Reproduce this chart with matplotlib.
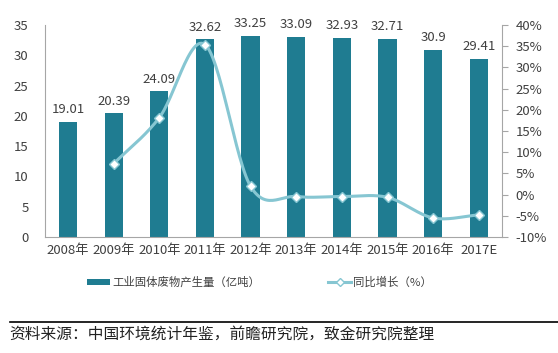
import numpy as np
import matplotlib
matplotlib.use('Agg')
import matplotlib.pyplot as plt
from matplotlib.lines import Line2D
from matplotlib.patches import Patch

plt.rcParams['font.family'] = ['Noto Sans CJK SC', 'DejaVu Sans']

#======================================================================
#                               data
#======================================================================
years  = ['2008年', '2009年', '2010年', '2011年', '2012年',
          '2013年', '2014年', '2015年', '2016年', '2017E']
output = [19.01, 20.39, 24.09, 32.62, 33.25, 33.09, 32.93, 32.71, 30.9, 29.41]
growth = [7.26, 18.15, 35.4, 1.93, -0.48, -0.48, -0.67, -5.53, -4.82]   # from 2009 on

bar_color  = '#1F7C91'
line_color = '#86C6D2'
text_color = '#404040'

#----------------------------------------------------------------------
def smooth(xs, ys, n=30):
    # catmull-rom curve through the points, only for drawing the line
    xs = np.asarray(xs, float); ys = np.asarray(ys, float)
    px = np.concatenate([[2*xs[0]-xs[1]], xs, [2*xs[-1]-xs[-2]]])
    py = np.concatenate([[2*ys[0]-ys[1]], ys, [2*ys[-1]-ys[-2]]])
    ox, oy = [], []
    t = np.linspace(0, 1, n)
    for i in range(1, len(px)-2):
        for p, o in ((px, ox), (py, oy)):
            p0, p1, p2, p3 = p[i-1], p[i], p[i+1], p[i+2]
            o.extend(0.5*((2*p1) + (-p0+p2)*t + (2*p0-5*p1+4*p2-p3)*t**2
                          + (-p0+3*p1-3*p2+p3)*t**3))
    return np.array(ox), np.array(oy)

#======================================================================
fig = plt.figure(figsize=(5.58, 3.53), dpi=100)
ax = fig.add_axes([0.081, 0.329, 0.818, 0.600])

x = np.arange(len(years))
ax.bar(x, output, width=0.4, color=bar_color, zorder=2)
for xi, v in zip(x, output):
    ax.text(xi, v + 0.9, f'{v:g}', ha='center', va='bottom',
            fontsize=9.5, color=text_color)

ax.set_xlim(-0.5, len(years) - 0.5)
ax.set_ylim(0, 35)
ax.set_yticks(range(0, 36, 5))
ax.set_xticks(x)
ax.set_xticklabels(years)
ax.tick_params(axis='both', length=0, labelsize=9.5, colors=text_color)
ax.tick_params(axis='x', pad=5)
ax.tick_params(axis='y', pad=12)
for s in ['top', 'right']:
    ax.spines[s].set_visible(False)
for s in ['left', 'bottom']:
    ax.spines[s].set_color('#A6A6A6')

#----------------------------------------------------------------------
ax2 = ax.twinx()
ax2.set_ylim(-10, 40)
ax2.set_yticks(range(-10, 41, 5))
ax2.set_yticklabels([f'{v}%' for v in range(-10, 41, 5)])
ax2.tick_params(axis='y', length=4, labelsize=9.5, colors=text_color, pad=6)
ax2.tick_params(axis='y', color='#A6A6A6')
for s in ['top', 'left', 'bottom']:
    ax2.spines[s].set_visible(False)
ax2.spines['right'].set_color('#A6A6A6')

sx, sy = smooth(x[1:], growth)
ax2.plot(sx, sy, color=line_color, linewidth=2.2, zorder=3)
ax2.plot(x[1:], growth, linestyle='none', marker='D', markersize=5,
         markerfacecolor='white', markeredgecolor=line_color,
         markeredgewidth=1, zorder=4)

#----------------------------------------------------------------------
handles = [Patch(facecolor=bar_color, label='工业固体废物产生量（亿吨）'),
           Line2D([], [], color=line_color, linewidth=2.2, marker='D',
                  markersize=4, markerfacecolor='white',
                  markeredgecolor=line_color, label='同比增长（%）')]
lg = fig.legend(handles=handles, loc='center', bbox_to_anchor=(0.465, 0.2),
                ncol=2, frameon=False, fontsize=8.2, handlelength=2.0,
                handleheight=0.5, columnspacing=6.0, handletextpad=0.2)
for t in lg.get_texts():
    t.set_color(text_color)

#----------------------------------------------------------------------
fig.add_artist(Line2D([0.018, 1.0], [0.088, 0.088], color='black', linewidth=1.2,
                      transform=fig.transFigure))
fig.text(0.016, 0.052, '资料来源：中国环境统计年鉴，前瞻研究院，致金研究院整理',
         fontsize=11.3, color='#222222', va='center', ha='left')

fig.savefig('out.png', dpi=100, facecolor='white')
